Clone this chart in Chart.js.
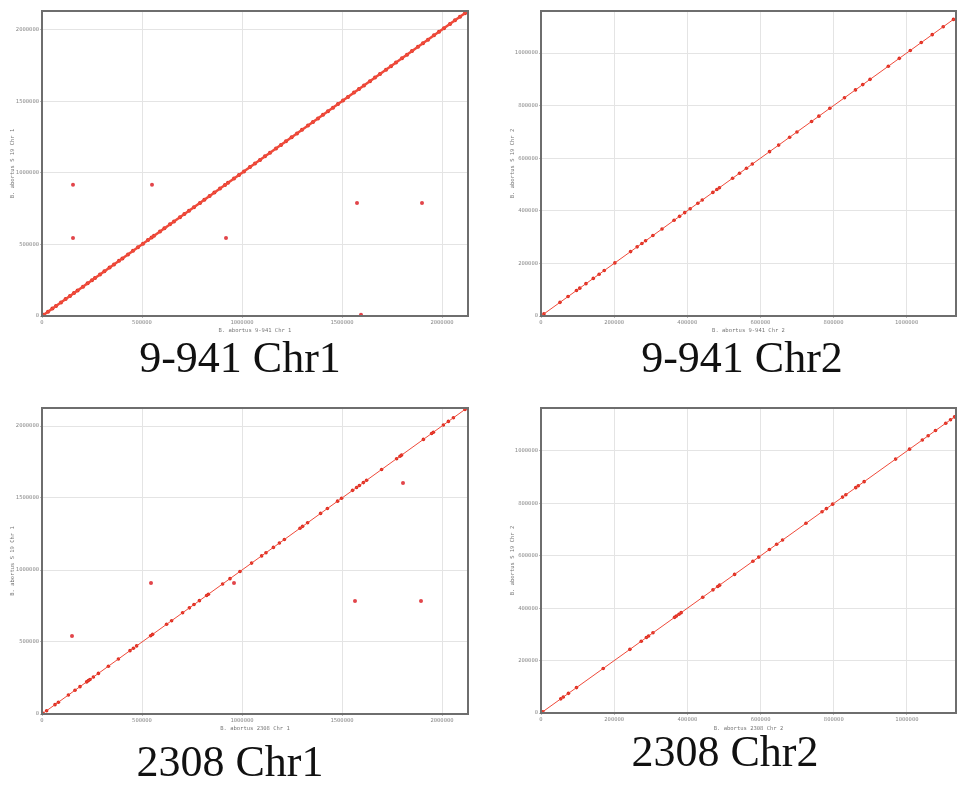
<!DOCTYPE html>
<html>
<head>
<meta charset="utf-8">
<script src="https://cdn.jsdelivr.net/npm/chart.js@4.4.0/dist/chart.umd.min.js"></script>
<style>
  body { margin: 0; background: #fff; width: 957px; height: 790px; position: relative; overflow: hidden; }
  canvas { position: absolute; }
  .cap { position: absolute; font-family: "Liberation Serif", "DejaVu Serif", serif; font-size: 44px; color: #111; white-space: nowrap; transform: translateX(-50%); line-height: 44px; }
</style>
</head>
<body>
<canvas id="c1" width="478" height="340" style="left:0;top:0"></canvas>
<canvas id="c2" width="478" height="340" style="left:479px;top:0"></canvas>
<canvas id="c3" width="478" height="340" style="left:0;top:398px"></canvas>
<canvas id="c4" width="478" height="340" style="left:479px;top:398px"></canvas>
<div class="cap" id="t1" style="left:240px;top:336px"></div>
<div class="cap" id="t2" style="left:742px;top:336px"></div>
<div class="cap" id="t3" style="left:230px;top:740px"></div>
<div class="cap" id="t4" style="left:725px;top:730px"></div>
<script>
// panel captions
var captions = ["9-941 Chr1", "9-941 Chr2", "2308 Chr1", "2308 Chr2"];
var xTitles = ["B. abortus 9-941 Chr 1", "B. abortus 9-941 Chr 2", "B. abortus 2308 Chr 1", "B. abortus 2308 Chr 2"];
var yTitles = ["B. abortus S 19 Chr 1", "B. abortus S 19 Chr 2", "B. abortus S 19 Chr 1", "B. abortus S 19 Chr 2"];

// tick values
var chr1Ticks = [0, 500000, 1000000, 1500000, 2000000];
var chr2Ticks = [0, 200000, 400000, 600000, 800000, 1000000];

// axis ranges
var chr1Max = [2130000, 2130000];
var chr2Max941 = [1135000, 1160000];
var chr2Max2308 = [1134000, 1164000];

// matches lying on the diagonal (position on both genomes)
var diag941Chr1 = [8000, 30000, 52000, 70000, 95000, 118000, 140000, 160000, 178000, 205000, 228000, 250000, 265000, 290000, 312000, 338000, 360000, 385000, 402000, 430000, 455000, 480000, 505000, 530000, 548000, 560000, 590000, 612000, 640000, 660000, 690000, 712000, 735000, 760000, 790000, 812000, 838000, 862000, 890000, 915000, 930000, 960000, 985000, 1010000, 1040000, 1065000, 1090000, 1115000, 1140000, 1170000, 1195000, 1220000, 1248000, 1275000, 1300000, 1330000, 1355000, 1380000, 1405000, 1430000, 1455000, 1480000, 1505000, 1530000, 1560000, 1585000, 1610000, 1640000, 1665000, 1690000, 1720000, 1745000, 1770000, 1800000, 1825000, 1850000, 1880000, 1905000, 1930000, 1960000, 1985000, 2010000, 2040000, 2065000, 2090000, 2115000];
var diag941Chr2 = [8000, 52000, 74000, 97000, 106000, 123000, 143000, 159000, 173000, 202000, 245000, 263000, 276000, 286000, 306000, 331000, 364000, 379000, 393000, 408000, 429000, 441000, 470000, 481000, 488000, 524000, 543000, 562000, 578000, 625000, 650000, 680000, 700000, 740000, 760000, 790000, 830000, 860000, 880000, 900000, 950000, 980000, 1010000, 1040000, 1070000, 1100000, 1128000];
var diag2308Chr1 = [5000, 23000, 65000, 82000, 132000, 165000, 190000, 223000, 232000, 240000, 257000, 282000, 332000, 382000, 440000, 457000, 473000, 543000, 553000, 623000, 648000, 703000, 737000, 760000, 787000, 823000, 832000, 903000, 940000, 990000, 1048000, 1098000, 1120000, 1157000, 1187000, 1212000, 1290000, 1303000, 1328000, 1393000, 1427000, 1478000, 1498000, 1553000, 1573000, 1587000, 1607000, 1623000, 1698000, 1773000, 1790000, 1798000, 1907000, 1948000, 1957000, 2007000, 2032000, 2057000, 2115000];
var diag2308Chr2 = [5000, 54000, 61000, 75000, 97000, 170000, 243000, 274000, 288000, 294000, 306000, 365000, 370000, 377000, 383000, 442000, 470000, 483000, 488000, 529000, 579000, 595000, 624000, 644000, 660000, 724000, 768000, 780000, 797000, 824000, 833000, 860000, 867000, 883000, 969000, 1007000, 1042000, 1058000, 1078000, 1106000, 1119000, 1130000];

// off-diagonal matches
var off941Chr1X = [155000, 155000, 550000, 920000, 1575000, 1900000, 1595000];
var off941Chr1Y = [916000, 545000, 916000, 545000, 790000, 790000, 8000];
var off2308Chr1X = [150000, 545000, 960000, 1565000, 1895000, 1805000];
var off2308Chr1Y = [542000, 910000, 910000, 785000, 785000, 1604000];

var frame = {
  id: "frame",
  afterDraw: function (chart) {
    var a = chart.chartArea, ctx = chart.ctx;
    ctx.save();
    ctx.strokeStyle = "#6e6e6e";
    ctx.lineWidth = 2;
    ctx.strokeRect(a.left, a.top, a.right - a.left, a.bottom - a.top);
    ctx.restore();
  }
};

function pts(xs, ys) {
  return xs.map(function (x, i) { return { x: x, y: ys[i] }; });
}

function makeChart(id, p) {
  var tickFont = { family: "DejaVu Sans Mono", size: 5.5 };
  var setTicks = function (s) { s.ticks = p.ticks.map(function (v) { return { value: v }; }); };
  var plain = function (v) { return String(v); };
  var datasets = [
    {
      type: "line",
      data: [{ x: 0, y: 0 }, { x: p.lineEnd, y: p.lineEnd }],
      borderColor: "#ef4a3a",
      borderWidth: p.lineW,
      pointRadius: 0
    },
    {
      data: p.diag.map(function (v) { return { x: v, y: v }; }),
      backgroundColor: "#dc2a1e",
      borderWidth: 0,
      pointRadius: p.r
    }
  ];
  if (p.off) {
    datasets.push({
      data: p.off,
      backgroundColor: "#e2454a",
      borderWidth: 0,
      pointRadius: 2
    });
  }
  return new Chart(document.getElementById(id), {
    type: "scatter",
    data: { datasets: datasets },
    plugins: [frame],
    options: {
      responsive: false,
      animation: false,
      devicePixelRatio: 1,
      layout: { autoPadding: false, padding: { top: p.top, right: p.right, left: 0, bottom: 0 } },
      plugins: { legend: { display: false }, tooltip: { enabled: false } },
      scales: {
        x: {
          type: "linear",
          min: 0,
          max: p.xMax,
          afterBuildTicks: setTicks,
          afterFit: function (s) { s.height = p.xH; },
          ticks: { callback: plain, font: tickFont, color: "#8a8a8a", padding: 1, maxRotation: 0, autoSkip: false },
          grid: { color: "#e4e4e4", tickLength: 2, tickColor: "#bbb" },
          border: { display: false },
          title: { display: true, text: p.xTitle, font: tickFont, color: "#777", padding: { top: 0, bottom: p.xTitlePad } }
        },
        y: {
          type: "linear",
          min: 0,
          max: p.yMax,
          afterBuildTicks: setTicks,
          afterFit: function (s) { s.width = p.yW; },
          ticks: { callback: plain, font: tickFont, color: "#8a8a8a", padding: 1, autoSkip: false },
          grid: { color: "#e4e4e4", tickLength: 2, tickColor: "#bbb" },
          border: { display: false },
          title: { display: true, text: p.yTitle, font: tickFont, color: "#777", padding: { top: p.yTitlePad, bottom: 0 } }
        }
      }
    }
  });
}

makeChart("c1", { diag: diag941Chr1, off: pts(off941Chr1X, off941Chr1Y), ticks: chr1Ticks, xMax: chr1Max[0], yMax: chr1Max[1], lineEnd: 2130000, top: 11, right: 10, xH: 24, yW: 42, r: 2, lineW: 2.5, xTitle: xTitles[0], yTitle: yTitles[0], xTitlePad: 6.5, yTitlePad: 9 });
makeChart("c2", { diag: diag941Chr2, off: null, ticks: chr2Ticks, xMax: chr2Max941[0], yMax: chr2Max941[1], lineEnd: 1150000, top: 11, right: 1, xH: 24, yW: 62, r: 1.8, lineW: 1, xTitle: xTitles[1], yTitle: yTitles[1], xTitlePad: 6.5, yTitlePad: 30 });
makeChart("c3", { diag: diag2308Chr1, off: pts(off2308Chr1X, off2308Chr1Y), ticks: chr1Ticks, xMax: chr1Max[0], yMax: 2125000, lineEnd: 2130000, top: 10, right: 10, xH: 24, yW: 42, r: 1.8, lineW: 1, xTitle: xTitles[2], yTitle: yTitles[2], xTitlePad: 6.5, yTitlePad: 9 });
makeChart("c4", { diag: diag2308Chr2, off: null, ticks: chr2Ticks, xMax: chr2Max2308[0], yMax: chr2Max2308[1], lineEnd: 1150000, top: 10, right: 1, xH: 25, yW: 62, r: 1.8, lineW: 1, xTitle: xTitles[3], yTitle: yTitles[3], xTitlePad: 6.5, yTitlePad: 30 });

for (var i = 0; i < 4; i++) {
  document.getElementById("t" + (i + 1)).textContent = captions[i];
}
</script>
</body>
</html>
